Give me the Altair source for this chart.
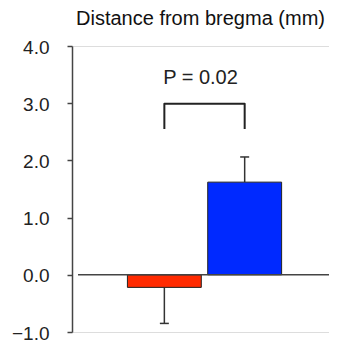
import altair as alt
import pandas as pd

# ---- data ----
groups = ["Control", "Treatment"]
positions = [1, 2]
means = [-0.22, 1.62]
errors = [0.63, 0.44]
bar_colors = ["#ff2a00", "#0029ff"]
y_ticks = [-1, 0, 1, 2, 3, 4]
bracket_low = 2.55
bracket_high = 2.99
p_text = "P = 0.02"
p_y = 3.34
title_text = "Distance from bregma (mm)"

FONT = "Liberation Sans"
HALF = 0.46
CAP = 0.056
XDOM = [-0.15, 3.05]

xs = alt.Scale(domain=XDOM)
ys = alt.Scale(domain=[-1, 4], nice=False, zero=False)

bars_df = pd.DataFrame({
    "group": groups,
    "pos": positions,
    "mean": means,
    "err": errors,
    "color": bar_colors,
})
bars_df["x0"] = bars_df["pos"] - HALF
bars_df["x1"] = bars_df["pos"] + HALF
bars_df["end"] = [m + (e if m >= 0 else -e) for m, e in zip(means, errors)]
bars_df["c0"] = bars_df["pos"] - CAP
bars_df["c1"] = bars_df["pos"] + CAP
bars_df["base"] = 0.0

base = alt.Chart(bars_df)

err_line = base.mark_rule(color="#333333", strokeWidth=1.5).encode(
    x=alt.X("pos:Q", scale=xs, axis=None),
    y=alt.Y("mean:Q", scale=ys),
    y2="end:Q",
)
err_cap = base.mark_rule(color="#333333", strokeWidth=1.5).encode(
    x=alt.X("c0:Q", scale=xs, axis=None),
    x2="c1:Q",
    y=alt.Y("end:Q", scale=ys),
)
bars = base.mark_bar(stroke="#222222", strokeWidth=1).encode(
    x=alt.X("x0:Q", scale=xs, axis=None),
    x2="x1:Q",
    y=alt.Y(
        "mean:Q",
        scale=ys,
        title=None,
        axis=alt.Axis(
            values=y_ticks,
            format=".1f",
            grid=False,
            domainColor="#444444",
            domainWidth=1.5,
            tickColor="#444444",
            tickWidth=1.5,
            tickSize=5,
            labelPadding=18,
            labelOffset=1,
            labelFont=FONT,
            labelFontSize=19,
            labelColor="#222222",
        ),
    ),
    y2="base:Q",
    color=alt.Color("color:N", scale=None),
)

zero_df = pd.DataFrame({"x0": [-0.075], "x1": [XDOM[1]], "y": [0.0]})
zero_line = alt.Chart(zero_df).mark_rule(color="#444444", strokeWidth=1.5).encode(
    x=alt.X("x0:Q", scale=xs, axis=None),
    x2="x1:Q",
    y=alt.Y("y:Q", scale=ys),
)

bracket_df = pd.DataFrame({
    "x": [positions[0], positions[0], positions[1], positions[1]],
    "y": [bracket_low, bracket_high, bracket_high, bracket_low],
    "o": [0, 1, 2, 3],
})
bracket = alt.Chart(bracket_df).mark_line(
    color="#222222", strokeWidth=2, strokeJoin="round", strokeCap="butt"
).encode(
    x=alt.X("x:Q", scale=xs, axis=None),
    y=alt.Y("y:Q", scale=ys),
    order="o:Q",
)

p_df = pd.DataFrame({"x": [1.45], "y": [p_y], "t": [p_text]})
p_label = alt.Chart(p_df).mark_text(
    font=FONT, fontSize=20, color="#222222", baseline="alphabetic", align="center"
).encode(
    x=alt.X("x:Q", scale=xs, axis=None),
    y=alt.Y("y:Q", scale=ys),
    text="t:N",
)

chart = alt.layer(err_line, err_cap, bars, zero_line, bracket, p_label).properties(
    width=257,
    height=286,
    title=alt.TitleParams(
        title_text,
        font=FONT,
        fontSize=20,
        fontWeight="normal",
        color="#111111",
        anchor="middle",
        frame="group",
        baseline="alphabetic",
        offset=0,
        dy=7,
    ),
    autosize=alt.AutoSizeParams(type="none"),
    padding={"left": 64, "top": 38, "right": 0, "bottom": 10},
).configure_view(stroke=None).configure(background="white")

chart.save("out.html", embed_options={"renderer": "svg", "actions": False})
